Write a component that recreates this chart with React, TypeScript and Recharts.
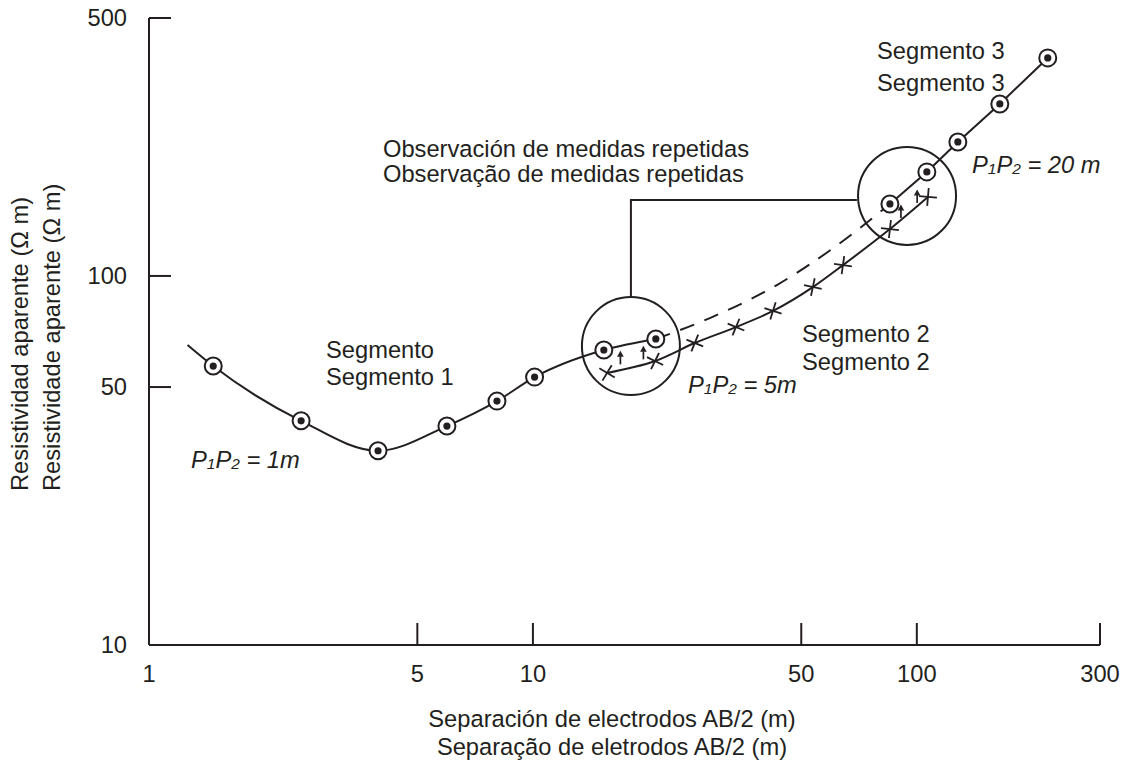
import React from "react";
import {
  ComposedChart,
  Customized,
  Line,
  ReferenceDot,
  Scatter,
  XAxis,
  YAxis,
} from "recharts";

const INK = "#231f20";
const FONT = "Arial, 'Liberation Sans', Helvetica, sans-serif";
const FS = 23.7;

const xTicks = [1, 5, 10, 50, 100, 300];
const yTicks = [10, 50, 100, 500];

// Segmento 1, P1P2 = 1 m (first entry is only where the curve begins)
const seg1AB = [1.26, 1.47, 2.49, 3.95, 5.97, 8.06, 10.1, 15.3, 20.9];
const seg1Rho = [65.0, 57.0, 40.5, 33.6, 39.2, 45.8, 53.2, 63.0, 67.5];

// Segmento 2, P1P2 = 5 m
const seg2AB = [15.6, 20.8, 26.4, 33.8, 42.2, 53.6, 64.2, 85.1, 106.9];
const seg2Rho = [54.6, 58.8, 65.8, 72.7, 80.4, 93.3, 107, 134, 163.7];

// dashed continuation of the 1 m curve up to segment 3
const linkAB = [20.9, 28.9, 43.2, 64.2, 85.1];
const linkRho = [67.5, 76.9, 94.5, 124.4, 156.7];

// Segmento 3, P1P2 = 20 m
const seg3AB = [85.1, 106.2, 127.9, 164.5, 219.3];
const seg3Rho = [156.7, 191.4, 230.7, 292.5, 389.8];

// small arrows showing the shift between repeated readings
const shiftAB = [16.9, 19.4, 90.9, 100.2];
const shiftRho = [59.8, 61.7, 149, 163.7];

// rings around the repeated readings and the callout leader
const ringAB = [18.0, 94.3];
const ringRho = [64.6, 164.8];
const leaderAB = [18.0, 18.0, 69.8];
const leaderRho = [88, 160.7, 160.7];

const pts = (xs: number[], ys: number[]) => xs.map((x, i) => ({ x, rho: ys[i] }));

const seg1 = pts(seg1AB, seg1Rho).map((p, i) => ({ ...p, reading: i > 0 }));
const seg2 = pts(seg2AB, seg2Rho);
const link = pts(linkAB, linkRho);
const seg3 = pts(seg3AB, seg3Rho);
const shifts = pts(shiftAB, shiftRho);
const leader = pts(leaderAB, leaderRho);

function RingDot(props: any) {
  const { cx, cy, payload, index } = props;
  if (cx == null || cy == null || payload?.reading === false) return <g key={`r${index}`} />;
  return (
    <g key={`r${index}`}>
      <circle cx={cx} cy={cy} r={8.5} fill="#fff" stroke={INK} strokeWidth={2} />
      <circle cx={cx} cy={cy} r={3.6} fill={INK} />
    </g>
  );
}

function CrossDot(props: any) {
  const { cx, cy, index, points } = props;
  if (cx == null || cy == null) return <g key={`c${index}`} />;
  let ang = -0.4;
  if (Array.isArray(points) && points.length > 1) {
    const a = points[Math.max(0, index - 1)];
    const b = points[Math.min(points.length - 1, index + 1)];
    ang = Math.atan2(b.y - a.y, b.x - a.x);
  }
  const L = 9;
  const arm = (t: number) => (
    <line
      x1={cx - L * Math.cos(t)}
      y1={cy - L * Math.sin(t)}
      x2={cx + L * Math.cos(t)}
      y2={cy + L * Math.sin(t)}
      stroke={INK}
      strokeWidth={1.8}
    />
  );
  return (
    <g key={`c${index}`}>
      {arm(ang + Math.PI / 4)}
      {arm(ang - Math.PI / 4)}
    </g>
  );
}

function ShiftArrow(props: any) {
  const { cx, cy } = props;
  if (cx == null || cy == null) return <g />;
  return (
    <g>
      <line x1={cx} y1={cy + 6} x2={cx} y2={cy - 2} stroke={INK} strokeWidth={1.7} />
      <path d={`M${cx - 3.3},${cy - 1.5} L${cx},${cy - 7.5} L${cx + 3.3},${cy - 1.5} Z`} fill={INK} />
    </g>
  );
}

function XTick(props: any) {
  const { x, y, payload } = props;
  return (
    <g>
      <line x1={x} y1={y} x2={x} y2={y - 22} stroke={INK} strokeWidth={2} />
      <text x={x} y={y + 37} textAnchor="middle" fontSize={FS} fontFamily={FONT} fill={INK}>
        {payload.value}
      </text>
    </g>
  );
}

function YTick(props: any) {
  const { x, y, payload } = props;
  return (
    <g>
      <line x1={x} y1={y} x2={x + 22} y2={y} stroke={INK} strokeWidth={2} />
      <text x={x - 22} y={y + 8} textAnchor="end" fontSize={FS} fontFamily={FONT} fill={INK}>
        {payload.value}
      </text>
    </g>
  );
}

function Spacing({ x, y, v }: { x: number; y: number; v: string }) {
  return (
    <text x={x} y={y} fontSize={FS} fontStyle="italic" fontFamily={FONT} fill={INK}>
      P<tspan fontSize={15.5} dy={1}>1</tspan>
      <tspan dy={-1}>P</tspan>
      <tspan fontSize={15.5} dy={1}>2</tspan>
      <tspan dy={-1}>{` = ${v}`}</tspan>
    </text>
  );
}

function Notes() {
  const t = { fontSize: FS, fontFamily: FONT, fill: INK };
  return (
    <g>
      <text x={383} y={157} {...t}>Observación de medidas repetidas</text>
      <text x={383} y={182} {...t}>Observação de medidas repetidas</text>
      <text x={326} y={358} {...t}>Segmento</text>
      <text x={326} y={385} {...t}>Segmento 1</text>
      <text x={802} y={342} {...t}>Segmento 2</text>
      <text x={802} y={370} {...t}>Segmento 2</text>
      <text x={877} y={59} {...t}>Segmento 3</text>
      <text x={877} y={91} {...t}>Segmento 3</text>
      <Spacing x={191} y={468} v="1m" />
      <Spacing x={688} y={393} v="5m" />
      <Spacing x={972} y={173} v="20 m" />
      <text x={612} y={727} textAnchor="middle" {...t}>Separación de electrodos AB/2 (m)</text>
      <text x={612} y={755} textAnchor="middle" {...t}>Separação de eletrodos AB/2 (m)</text>
      <text transform="translate(28,491) rotate(-90)" {...t}>Resistividad aparente (Ω m)</text>
      <text transform="translate(60,491) rotate(-90)" {...t}>Resistividade aparente (Ω m)</text>
    </g>
  );
}

export default function App() {
  return (
    <div style={{ position: "absolute", left: 0, top: 0, background: "#fff" }}>
      <ComposedChart width={1134} height={762} margin={{ top: 18, right: 34, bottom: 0, left: 0 }}>
        <XAxis
          dataKey="x"
          type="number"
          scale="log"
          domain={[1, 300]}
          ticks={xTicks}
          interval={0}
          allowDataOverflow
          height={117}
          tickSize={0}
          tickMargin={0}
          tickLine={false}
          axisLine={{ stroke: INK, strokeWidth: 2 }}
          tick={<XTick />}
        />
        <YAxis
          dataKey="rho"
          type="number"
          scale="log"
          domain={[10, 500]}
          ticks={yTicks}
          interval={0}
          allowDataOverflow
          width={149}
          tickSize={0}
          tickMargin={0}
          tickLine={false}
          axisLine={{ stroke: INK, strokeWidth: 2 }}
          tick={<YTick />}
        />
        <Line
          data={leader}
          dataKey="rho"
          type="linear"
          stroke={INK}
          strokeWidth={2}
          dot={false}
          isAnimationActive={false}
        />
        <Line
          data={link}
          dataKey="rho"
          type="monotone"
          stroke={INK}
          strokeWidth={2}
          strokeDasharray="15 11"
          dot={false}
          isAnimationActive={false}
        />
        <Line
          data={seg2}
          dataKey="rho"
          type="monotone"
          stroke={INK}
          strokeWidth={2}
          dot={CrossDot}
          isAnimationActive={false}
        />
        <Line
          data={seg1}
          dataKey="rho"
          type="monotone"
          stroke={INK}
          strokeWidth={2}
          dot={RingDot}
          isAnimationActive={false}
        />
        <Line
          data={seg3}
          dataKey="rho"
          type="linear"
          stroke={INK}
          strokeWidth={2}
          dot={RingDot}
          isAnimationActive={false}
        />
        <Scatter data={shifts} dataKey="rho" shape={ShiftArrow} isAnimationActive={false} />
        {ringAB.map((x, i) => (
          <ReferenceDot
            key={i}
            x={x}
            y={ringRho[i]}
            r={49}
            fill="none"
            stroke={INK}
            strokeWidth={2}
            ifOverflow="visible"
          />
        ))}
        <Customized component={Notes} />
      </ComposedChart>
    </div>
  );
}
